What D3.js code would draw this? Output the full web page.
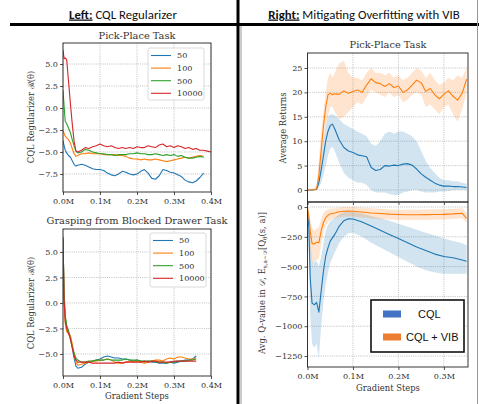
<!DOCTYPE html>
<html>
<head>
<meta charset="utf-8">
<script src="https://cdn.jsdelivr.net/npm/d3@7"></script>
<style>
  body { margin: 0; background: #fff; }
  svg { display: block; }
</style>
</head>
<body>
<svg width="479" height="404"></svg>
<script>
// ---- data: left top, Pick-Place CQL regularizer (x in M gradient steps)
var ppX = [0, 0.003, 0.006, 0.01, 0.015, 0.02, 0.025, 0.03, 0.035, 0.04,
  0.05, 0.06, 0.07, 0.08, 0.09, 0.10, 0.11, 0.12, 0.13, 0.14, 0.15, 0.16, 0.17, 0.18, 0.19,
  0.20, 0.21, 0.22, 0.23, 0.24, 0.25, 0.26, 0.27, 0.28, 0.29, 0.30, 0.31, 0.32, 0.33, 0.34,
  0.35, 0.36, 0.37, 0.38, 0.39, 0.40];
var pp50 = [-3.7, -4.3, -4.8, -5.1, -5.4, -5.6, -6.0, -6.4, -6.6, -6.5,
  -6.4, -6.5, -6.7, -6.9, -7.0, -7.0, -7.1, -7.4, -7.6, -7.7, -7.5, -7.2, -7.3, -7.5, -7.6,
  -7.5, -7.2, -7.0, -7.4, -8.0, -8.1, -7.7, -7.0, -7.1, -7.3, -7.4, -7.6, -7.8, -8.2, -8.4,
  -8.5, -8.3, -7.9, -7.4];
var pp100 = [-2.6, -2.9, -3.2, -3.4, -3.6, -4.0, -4.6, -5.2, -5.5, -5.4,
  -5.2, -5.2, -5.1, -5.2, -5.2, -5.2, -5.3, -5.3, -5.3, -5.3, -5.4, -5.4, -5.5, -5.7, -5.8,
  -5.8, -5.9, -5.8, -5.9, -5.9, -5.8, -5.9, -6.0, -6.1, -6.0, -5.9, -5.8, -5.7, -5.6, -5.7,
  -5.6, -5.5, -5.4, -5.5];
var pp500 = [2.0, 0.2, -1.5, -1.8, -2.3, -2.8, -3.6, -4.3, -4.9, -5.1,
  -5.0, -4.7, -4.8, -5.0, -5.1, -5.2, -5.2, -5.3, -5.3, -5.4, -5.3, -5.3, -5.3, -5.2, -5.2,
  -5.1, -5.2, -5.2, -5.3, -5.3, -5.2, -5.3, -5.4, -5.3, -5.4, -5.3, -5.5, -5.4, -5.6, -5.7,
  -5.7, -5.6, -5.5, -5.6];
var pp10000 = [6.6, 5.6, 5.7, 5.5, 3.0, 0.5, -1.8, -3.8, -4.9, -5.0,
  -4.8, -4.5, -4.6, -4.4, -4.3, -4.1, -4.3, -4.4, -4.3, -4.5, -4.6, -4.5, -4.6, -4.5, -4.6,
  -4.4, -4.5, -4.5, -4.3, -4.4, -4.5, -4.2, -4.1, -4.4, -4.3, -4.5, -4.3, -4.4, -4.6, -4.5,
  -4.7, -4.6, -4.8, -4.8, -4.9, -5.0];

// ---- data: left bottom, Grasping from Blocked Drawer
var gdX = [0, 0.003, 0.006, 0.01, 0.015, 0.02, 0.025, 0.03, 0.035, 0.04,
  0.05, 0.06, 0.07, 0.08, 0.09, 0.10, 0.11, 0.12, 0.13, 0.14, 0.15, 0.16, 0.17, 0.18, 0.19,
  0.20, 0.21, 0.22, 0.23, 0.24, 0.25, 0.26, 0.27, 0.28, 0.29, 0.30, 0.31, 0.32, 0.33, 0.34,
  0.35, 0.36];
var gd50 = [6.5, 0.5, -1.5, -2.3, -2.8, -3.3, -4.3, -5.4, -6.2, -6.4,
  -6.3, -6.0, -5.8, -5.7, -5.6, -5.5, -5.3, -5.2, -5.3, -5.4, -5.4, -5.5, -5.5, -5.6, -5.7,
  -5.6, -5.7, -5.8, -5.7, -5.8, -5.8, -5.9, -5.9, -5.9, -5.8, -5.9, -5.8, -5.7, -5.6, -5.6,
  -5.5, -5.2];
var gd100 = [6.5, 0.0, -2.0, -2.8, -3.0, -3.2, -4.0, -5.0, -5.8, -6.1,
  -6.0, -5.9, -5.8, -5.7, -5.7, -5.6, -5.6, -5.5, -5.6, -5.8, -5.9, -5.9, -5.8, -5.7, -5.8,
  -5.7, -5.8, -5.9, -5.8, -5.7, -5.6, -5.6, -5.7, -5.5, -5.4, -5.5, -5.3, -5.3, -5.4, -5.5,
  -5.5, -5.4];
var gd500 = [6.0, 1.0, -1.2, -2.2, -2.8, -3.6, -4.3, -4.9, -5.4, -5.6,
  -5.8, -5.8, -5.7, -5.7, -5.6, -5.6, -5.6, -5.5, -5.6, -5.6, -5.6, -5.6, -5.5, -5.6, -5.6,
  -5.6, -5.7, -5.7, -5.7, -5.7, -5.8, -5.8, -5.8, -5.9, -5.8, -5.8, -5.7, -5.7, -5.7, -5.6,
  -5.6, -5.5];
var gd10000 = [6.3, 0.3, -1.8, -2.5, -3.0, -3.5, -4.4, -5.2, -5.6, -5.8,
  -5.8, -5.8, -5.8, -5.9, -5.9, -5.9, -5.9, -5.9, -5.9, -5.9, -5.8, -5.9, -5.8, -5.8, -5.8,
  -5.8, -5.8, -5.7, -5.8, -5.7, -5.7, -5.8, -5.8, -5.8, -5.8, -5.7, -5.7, -5.7, -5.7, -5.7,
  -5.7, -5.7];

// ---- data: right top, average returns (mean, low, high)
var rtX = [0, 0.01, 0.02, 0.025, 0.03, 0.035, 0.04, 0.045, 0.05, 0.055, 0.06,
  0.07, 0.08, 0.09, 0.10, 0.11, 0.12, 0.13, 0.14, 0.15, 0.16, 0.17, 0.18, 0.19, 0.20,
  0.21, 0.22, 0.23, 0.24, 0.25, 0.26, 0.27, 0.28, 0.29, 0.30, 0.31, 0.32, 0.33, 0.34, 0.35];
var rtCql = [0, 0, 0.1, 1.5, 4, 7, 10, 12, 13.2, 13.5, 12.5,
  10.2, 8.7, 8.0, 7.7, 7.2, 7.0, 6.8, 4.6, 4.0, 4.2, 5.0, 4.9, 5.1, 5.0,
  5.3, 5.4, 5.1, 4.3, 3.3, 2.6, 2.0, 1.4, 1.0, 0.8, 0.8, 0.7, 0.7, 0.6, 0.5];
var rtCqlLo = [0, 0, 0, 0.5, 1.5, 3, 5, 7, 8.5, 8.8, 8,
  5.5, 3.5, 2.5, 2.0, 1.5, 1.5, 1.0, 0, -0.5, -0.5, -0.5, -0.8, -1, -1,
  -0.5, -0.3, 0, 0, -0.3, -0.5, -0.5, -0.5, -0.3, -0.3, -0.2, 0, 0, 0, 0];
var rtCqlHi = [0, 0, 0.3, 2.5, 6.5, 10, 13, 15, 15.5, 15.5, 15.3,
  14.5, 13.5, 13, 12.5, 12, 11.5, 11, 9.5, 9, 10, 11.5, 12, 11.5, 12,
  12, 11.5, 11, 10, 8, 6, 4.5, 3.5, 2.5, 2, 2, 1.8, 1.8, 1.5, 1.3];
var rtVib = [0, 0, 0.2, 3, 8, 13, 17, 19.5, 19.8, 19.5, 19.7,
  19.6, 20.3, 19.8, 20.2, 20.5, 20.0, 21.5, 22.8, 22.0, 21.8, 21.2, 21.8, 21.0, 21.3,
  20.0, 20.5, 21.5, 22.5, 22.0, 20.2, 20.8, 19.5, 18.7, 19.6, 20.3, 19.2, 18.4, 19.8, 22.7];
var rtVibLo = [0, 0, 0, 1, 5, 10, 13, 15, 17, 17, 16,
  14.5, 15, 16, 17, 18, 17.5, 19, 20.5, 20, 19.5, 19, 20, 19, 19.5,
  18, 18.5, 19.5, 20, 19.5, 17, 17.5, 16.5, 15.5, 17, 17.5, 15.5, 14, 16.5, 20];
var rtVibHi = [0, 0, 1, 6, 12, 16, 20, 23, 24, 23, 24,
  26, 26.5, 24, 23, 23, 22.5, 24, 25, 24, 24, 23.5, 24, 23, 23.5,
  22.5, 23, 24, 25, 24.5, 23, 24, 22.5, 21.5, 22, 23, 22.5, 23.5, 23, 25];

// ---- data: right bottom, average Q-value in dataset
var qX = [0, 0.003, 0.006, 0.01, 0.015, 0.02, 0.025, 0.03, 0.035, 0.04, 0.045, 0.05,
  0.06, 0.07, 0.08, 0.09, 0.10, 0.12, 0.14, 0.16, 0.18, 0.20, 0.22, 0.24, 0.26, 0.28,
  0.30, 0.32, 0.34, 0.35];
var qCql = [-30, -175, -595, -806, -820, -800, -882, -708, -540, -413, -343, -286,
  -230, -160, -115, -98, -100, -125, -160, -195, -230, -265, -300, -335, -365, -395,
  -415, -425, -445, -455];
var qCqlLo = [-30, -400, -900, -1150, -1180, -1150, -1270, -1000, -800, -650, -550, -470,
  -380, -300, -250, -220, -215, -250, -300, -340, -380, -420, -460, -500, -530, -550,
  -560, -560, -560, -560];
var qCqlHi = [-10, -80, -250, -450, -470, -450, -500, -420, -300, -200, -150, -120,
  -90, -60, -45, -40, -40, -55, -75, -95, -115, -140, -165, -190, -215, -240,
  -265, -285, -305, -320];
var qVib = [-5, -80, -200, -305, -310, -295, -300, -200, -130, -90, -70, -58,
  -50, -40, -35, -34, -35, -42, -50, -55, -60, -63, -65, -65, -64, -63,
  -62, -58, -52, -95];
var qVibLo = [-10, -150, -350, -450, -470, -440, -430, -320, -220, -160, -130, -110,
  -95, -85, -80, -80, -82, -88, -95, -100, -105, -108, -110, -110, -108, -106,
  -105, -100, -95, -130];
var qVibHi = [0, -30, -100, -180, -200, -180, -170, -100, -50, -30, -20, -15,
  -10, -5, 0, 0, 0, -5, -10, -15, -20, -22, -22, -22, -20, -18,
  -18, -15, -10, -50];

var legendLabels = ["50", "100", "500", "10000"];
var tab = ["#1f77b4", "#ff7f0e", "#2ca02c", "#d62728"];

var svg = d3.select("svg");
var serif = "'DejaVu Serif', serif";
var ink = "#333";
var tickSize = 8.1, labelSize = 8.4, titleSize = 9.8;
var minusFmt = function(f) { return function(d) { return f(d).replace("-", "\u2212"); }; };
var clipId = 0;

function panel(c) {
  var x = d3.scaleLinear().domain(c.xd).range([c.l, c.r]);
  var y = d3.scaleLinear().domain(c.yd).range([c.b, c.t]);
  var g = svg.append("g");

  // dotted grid
  g.selectAll(null).data(c.xt).enter().append("line")
      .attr("x1", function(d) { return x(d); }).attr("x2", function(d) { return x(d); })
      .attr("y1", c.t).attr("y2", c.b)
      .attr("stroke", "#b0b0b0").attr("stroke-width", 0.8).attr("stroke-dasharray", "1,1.2");
  g.selectAll(null).data(c.yt).enter().append("line")
      .attr("y1", function(d) { return y(d); }).attr("y2", function(d) { return y(d); })
      .attr("x1", c.l).attr("x2", c.r)
      .attr("stroke", "#b0b0b0").attr("stroke-width", 0.8).attr("stroke-dasharray", "1,1.2");

  var id = "clip" + (clipId++);
  svg.append("clipPath").attr("id", id).append("rect")
      .attr("x", c.l).attr("y", c.t).attr("width", c.r - c.l).attr("height", c.b - c.t);
  var plot = g.append("g").attr("clip-path", "url(#" + id + ")");

  var xa = g.append("g").attr("transform", "translate(0," + c.b + ")")
      .call(d3.axisBottom(x).tickValues(c.xt).tickSize(3).tickPadding(3)
        .tickFormat(c.xLabels ? function(d) { return d3.format(".1f")(d) + "M"; } : ""));
  var ya = g.append("g").attr("transform", "translate(" + c.l + ",0)")
      .call(d3.axisLeft(y).tickValues(c.yt).tickSize(3).tickPadding(2).tickFormat(c.yf));
  [xa, ya].forEach(function(a) {
    a.select(".domain").remove();
    a.selectAll("line").attr("stroke", "#222").attr("stroke-width", 0.8);
    a.selectAll("text").attr("fill", ink).style("font-family", serif).style("font-size", tickSize + "px");
  });

  g.append("rect").attr("x", c.l).attr("y", c.t)
      .attr("width", c.r - c.l).attr("height", c.b - c.t)
      .attr("fill", "none").attr("stroke", "#222").attr("stroke-width", 0.9);

  return { x: x, y: y, plot: plot };
}

function drawLine(p, xs, ys, color, w) {
  var line = d3.line()
      .x(function(d, i) { return p.x(xs[i]); })
      .y(function(d) { return p.y(d); });
  p.plot.append("path").datum(ys).attr("d", line)
      .attr("fill", "none").attr("stroke", color).attr("stroke-width", w || 1.1)
      .attr("stroke-linejoin", "round");
}

function drawBand(p, xs, lo, hi, color) {
  var area = d3.area()
      .x(function(d, i) { return p.x(xs[i]); })
      .y0(function(d, i) { return p.y(lo[i]); })
      .y1(function(d, i) { return p.y(hi[i]); });
  p.plot.append("path").datum(lo).attr("d", area)
      .attr("fill", color).attr("fill-opacity", 0.2).attr("stroke", "none");
}

function txt(x, y, s, size, opts) {
  opts = opts || {};
  var t = svg.append("text").attr("x", x).attr("y", y)
      .attr("text-anchor", opts.anchor || "middle")
      .attr("fill", opts.fill || ink)
      .style("font-family", opts.font || serif)
      .style("font-size", size + "px")
      .text(s);
  if (opts.rotate) t.attr("transform", "rotate(-90," + x + "," + y + ")");
  return t;
}

function mplLegend(p, x0, y0, w, h, rows) {
  svg.append("rect").attr("x", x0).attr("y", y0).attr("width", w).attr("height", h)
      .attr("rx", 2).attr("fill", "#fff").attr("fill-opacity", 0.85)
      .attr("stroke", "#d0d0d0").attr("stroke-width", 0.8);
  legendLabels.forEach(function(l, i) {
    var yy = y0 + 7.5 + i * rows;
    svg.append("line").attr("x1", x0 + 3).attr("x2", x0 + 23).attr("y1", yy).attr("y2", yy)
        .attr("stroke", tab[i]).attr("stroke-width", 1.1);
    txt(x0 + 29, yy + 2.9, l, tickSize, { anchor: "start" });
  });
}

// ---- frame: headers and dividers
svg.append("line").attr("x1", 10).attr("x2", 479).attr("y1", 24.5).attr("y2", 24.5)
    .attr("stroke", "#000").attr("stroke-width", 3);
svg.append("line").attr("x1", 238).attr("x2", 238).attr("y1", 0).attr("y2", 404)
    .attr("stroke", "#000").attr("stroke-width", 3);
svg.append("line").attr("x1", 241).attr("x2", 241).attr("y1", 26).attr("y2", 404)
    .attr("stroke", "#999").attr("stroke-width", 1);
svg.append("line").attr("x1", 477.5).attr("x2", 477.5).attr("y1", 0).attr("y2", 404)
    .attr("stroke", "#999").attr("stroke-width", 1);

var sans = "Carlito, Lato, 'Open Sans', sans-serif";
var h1 = txt(123, 18.5, "", 12.8, { font: sans, fill: "#111" });
h1.append("tspan").style("font-weight", "bold").style("text-decoration", "underline").text("Left:");
h1.append("tspan").text(" CQL Regularizer");
var h2 = txt(364, 18.5, "", 12.8, { font: sans, fill: "#111" });
h2.append("tspan").style("font-weight", "bold").style("text-decoration", "underline").text("Right:");
h2.append("tspan").text(" Mitigating Overfitting with VIB");

// ---- left top
var fmt1 = minusFmt(d3.format(".1f"));
var lt = panel({ l: 63, r: 211, t: 43, b: 192, xd: [0, 0.4], yd: [-9.55, 7.39],
  xt: [0, 0.1, 0.2, 0.3, 0.4], yt: [-7.5, -5, -2.5, 0, 2.5, 5], yf: fmt1, xLabels: true });
[pp50, pp100, pp500, pp10000].forEach(function(s, i) { drawLine(lt, ppX, s, tab[i]); });
txt(137, 38.5, "Pick-Place Task", titleSize);
txt(34, 117, "CQL Regularizer \u211B(\u03B8)", labelSize, { rotate: true });
mplLegend(lt, 148, 48, 56, 52, 12.6);

// ---- left bottom
var lb = panel({ l: 63, r: 211, t: 229, b: 376, xd: [0, 0.4], yd: [-7.16, 7.25],
  xt: [0, 0.1, 0.2, 0.3, 0.4], yt: [-5, -2.5, 0, 2.5, 5], yf: fmt1, xLabels: true });
[gd50, gd100, gd500, gd10000].forEach(function(s, i) { drawLine(lb, gdX, s, tab[i]); });
txt(137, 223.5, "Grasping from Blocked Drawer Task", titleSize);
txt(34, 303, "CQL Regularizer \u211B(\u03B8)", labelSize, { rotate: true });
txt(137, 399, "Gradient Steps", labelSize);
mplLegend(lb, 150, 233, 56, 54, 12.6);

// ---- right top
var rt = panel({ l: 307.5, r: 468, t: 53, b: 202, xd: [0, 0.353], yd: [-2.46, 28.07],
  xt: [0, 0.1, 0.2, 0.3], yt: [0, 5, 10, 15, 20, 25], yf: d3.format("d"), xLabels: false });
drawBand(rt, rtX, rtCqlLo, rtCqlHi, tab[0]);
drawBand(rt, rtX, rtVibLo, rtVibHi, tab[1]);
drawLine(rt, rtX, rtCql, tab[0]);
drawLine(rt, rtX, rtVib, tab[1]);
txt(388, 48, "Pick-Place Task", titleSize);
txt(286, 128, "Average Returns", labelSize, { rotate: true });

// ---- right bottom
var rb = panel({ l: 307.5, r: 468, t: 202, b: 367, xd: [0, 0.353], yd: [-1342, 42],
  xt: [0, 0.1, 0.2, 0.3], yt: [0, -250, -500, -750, -1000, -1250],
  yf: minusFmt(d3.format("d")), xLabels: true });
drawBand(rb, qX, qCqlLo, qCqlHi, tab[0]);
drawBand(rb, qX, qVibLo, qVibHi, tab[1]);
drawLine(rb, qX, qCql, tab[0]);
drawLine(rb, qX, qVib, tab[1]);
txt(388, 391, "Gradient Steps", labelSize);

var ql = txt(265, 283, "", labelSize, { rotate: true });
ql.append("tspan").text("Avg. Q-value in ");
ql.append("tspan").style("font-style", "italic").text("\uD835\uDC9F");
ql.append("tspan").text(", E");
ql.append("tspan").attr("dy", 2).style("font-size", "5.8px").text("s,a\u223C\uD835\uDC9F");
ql.append("tspan").attr("dy", -2).text("[Q");
ql.append("tspan").attr("dy", 2).style("font-size", "5.8px").text("\u03B8");
ql.append("tspan").attr("dy", -2).text("(s, a)]");

// legend with solid swatches
var legItems = [{ name: "CQL", color: "#4472c4" }, { name: "CQL + VIB", color: "#ed7d31" }];
svg.append("rect").attr("x", 371).attr("y", 300).attr("width", 93).attr("height", 52)
    .attr("fill", "#fff").attr("stroke", "#111").attr("stroke-width", 1.6);
legItems.forEach(function(d, i) {
  var yy = 314 + i * 23;
  svg.append("rect").attr("x", 383).attr("y", yy - 3.5).attr("width", 18).attr("height", 7)
      .attr("fill", d.color);
  txt(i === 0 ? 418 : 406, yy + 4, d.name, 11,
    { anchor: "start", font: "'Liberation Sans', Arial, sans-serif", fill: "#111" });
});
</script>
</body>
</html>
